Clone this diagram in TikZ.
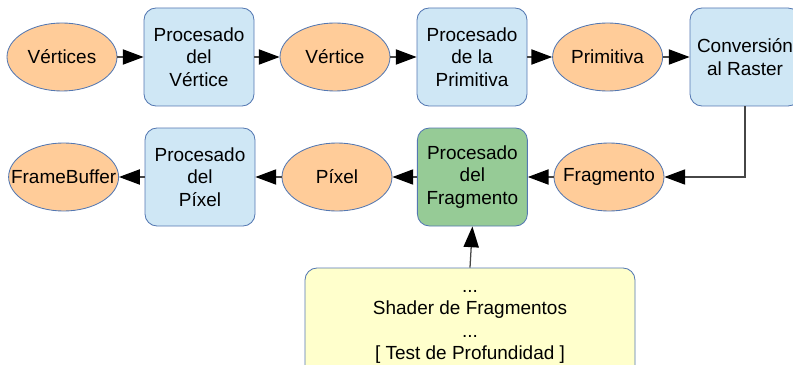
\documentclass[tikz,border=0pt]{standalone}
\usepackage{fontspec}
\setmainfont{Liberation Sans}
\usepackage{tikz}
\usetikzlibrary{arrows.meta,calc,positioning,shapes.geometric}

\definecolor{datafill}{RGB}{255,204,153}
\definecolor{stagefill}{RGB}{207,231,245}
\definecolor{fragfill}{RGB}{150,203,150}
\definecolor{shaderfill}{RGB}{255,255,204}
\definecolor{edgeblue}{RGB}{84,120,178}
\definecolor{wire}{RGB}{70,70,70}

\tikzset{
  % text kept in a zero-width box so every ellipse has the same size
  data/.style={ellipse, draw=edgeblue, line width=0.6pt, fill=datafill,
    minimum width=2.75cm, minimum height=1.7cm, inner sep=0pt,
    execute at begin node={\hbox to 0pt\bgroup\hss},
    execute at end node={\hss\egroup}},
  stage/.style={rectangle, rounded corners=0.3cm, draw=edgeblue, line width=0.6pt,
    fill=stagefill, minimum width=2.75cm, minimum height=2.45cm, align=center},
  flow/.style={-{Triangle[length=0.52cm,width=0.38cm,color=black]},
    draw=wire, line width=0.9pt}
}

\begin{document}
\begin{tikzpicture}[font=\fontsize{13.5}{15.9}\selectfont]
  \useasboundingbox (0,0) rectangle (19.825,-9.125);

  % Top row: vertex side of the pipeline
  \node[data]  (verts)  at (1.55,-1.425)   {Vértices};
  \node[stage] (pvert)  at (4.975,-1.425)  {Procesado\\del\\Vértice};
  \node[data]  (vert)   at (8.375,-1.425)  {Vértice};
  \node[stage] (pprim)  at (11.8,-1.425)   {Procesado\\de la\\Primitiva};
  \node[data]  (prim)   at (15.19,-1.425)  {Primitiva};
  \node[stage] (raster) at (18.625,-1.425) {Conversión\\al Raster};

  % Bottom row: fragment side, running right to left
  \node[data]  (fbuf)   at (1.59,-4.425)   {FrameBuffer};
  \node[stage] (ppix)   at (5.0,-4.425)    {Procesado\\del\\Píxel};
  \node[data]  (pix)    at (8.425,-4.425)  {Píxel};
  \node[stage, fill=fragfill] (pfrag) at (11.81,-4.425) {Procesado\\del\\Fragmento};
  \node[data]  (frag)   at (15.225,-4.425) {Fragmento};

  % Detail of the fragment stage
  \node[stage, fill=shaderfill, minimum width=8.25cm, minimum height=2.95cm]
    (shader) at (11.75,-8.175) {...\\Shader de Fragmentos\\...\\{[} Test de Profundidad ]};

  % Arrows
  \draw[flow] (verts) -- (pvert);
  \draw[flow] (pvert) -- (vert);
  \draw[flow] (vert) -- (pprim);
  \draw[flow] (pprim) -- (prim);
  \draw[flow] (prim) -- (raster);
  \draw[flow] (raster.south) |- (frag.east);
  \draw[flow] (frag) -- (pfrag);
  \draw[flow] (pfrag) -- (pix);
  \draw[flow] (pix) -- (ppix);
  \draw[flow] (ppix) -- (fbuf);
  \draw[flow] (shader.north) -- (pfrag.south);
\end{tikzpicture}
\end{document}
